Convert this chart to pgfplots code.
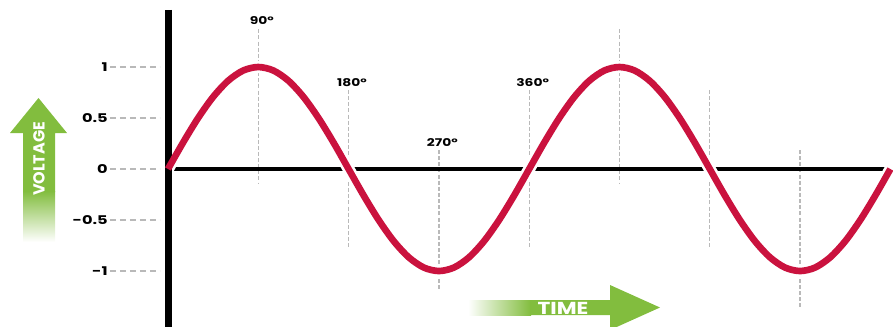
\documentclass[border=0pt]{standalone}
\usepackage{fontspec}
\setmainfont{Poppins}
\usepackage{pgfplots}
\pgfplotsset{compat=1.18}

\definecolor{wavered}{RGB}{202,18,62}
\definecolor{arrowgreen}{RGB}{130,189,62}
\definecolor{guidegray}{RGB}{185,185,185}

\tikzset{
    guide/.style={guidegray, line width=1pt, dash pattern=on 3pt off 1.6pt},
    deglabel/.style={font=\fontsize{8}{9}\selectfont\bfseries\addfontfeature{FakeStretch=1.3}, xshift=2.6pt},
}

% one full cycle every 360 degrees, read at 15 degree steps
\pgfplotstableread{
deg volt
0 0
15 0.259
30 0.5
45 0.707
60 0.866
75 0.966
90 1
105 0.966
120 0.866
135 0.707
150 0.5
165 0.259
180 0
195 -0.259
210 -0.5
225 -0.707
240 -0.866
255 -0.966
270 -1
285 -0.966
300 -0.866
315 -0.707
330 -0.5
345 -0.259
360 0
375 0.259
390 0.5
405 0.707
420 0.866
435 0.966
450 1
465 0.966
480 0.866
495 0.707
510 0.5
525 0.259
540 0
555 -0.259
570 -0.5
585 -0.707
600 -0.866
615 -0.966
630 -1
645 -0.966
660 -0.866
675 -0.707
690 -0.5
705 -0.259
720 0
}\sinedata

\begin{document}
\begin{tikzpicture}
\useasboundingbox (0pt,0pt) rectangle (669.75pt,-244.5pt);
\begin{axis}[
    at={(120pt,-244.5pt)}, anchor=south west,
    scale only axis,
    width=549.75pt, height=244.5pt,
    xmin=-7.97, xmax=722.6,
    ymin=-1.539, ymax=1.657,
    clip=false,
    axis x line=none,
    axis y line*=left,
    y axis line style={draw=none},
    xtick=\empty,
    ytick={-1,-0.5,0,0.5,1},
    yticklabels={-1,-0.5,0,0.5,1},
    tick align=outside,
    major tick length=37.5pt,
    ytick style={guidegray, line width=0.9pt, dash pattern=on 4.5pt off 3pt},
    yticklabel style={font=\fontsize{9}{10}\selectfont\bfseries\addfontfeature{FakeStretch=1.35},
        text=black, inner sep=1.5pt},
]
% dashed guides at each quarter turn
\draw[guide] (axis cs:90,1.37) -- (axis cs:90,-0.15);
\draw[guide] (axis cs:180,0.775) -- (axis cs:180,-0.775);
\draw[guide] (axis cs:270,0.186) -- (axis cs:270,-1.186);
\draw[guide] (axis cs:360,0.775) -- (axis cs:360,-0.775);
\draw[guide] (axis cs:450,1.37) -- (axis cs:450,-0.15);
\draw[guide] (axis cs:540,0.775) -- (axis cs:540,-0.775);
\draw[guide] (axis cs:630,0.186) -- (axis cs:630,-1.353);
\node[deglabel] at (axis cs:90,1.46) {90°};
\node[deglabel] at (axis cs:180,0.843) {180°};
\node[deglabel] at (axis cs:270,0.255) {270°};
\node[deglabel] at (axis cs:360,0.843) {360°};

% zero line
\draw[black, line width=2.7pt] (axis cs:3,0) -- (axis cs:715,0);

\addplot[white, line width=9pt, smooth] table[x=deg, y=volt] {\sinedata};
\draw[black, line width=5.2pt] (axis cs:0.3,1.56) -- (axis cs:0.3,-1.6);
\addplot[wavered, line width=5pt, smooth] table[x=deg, y=volt] {\sinedata};
\end{axis}

\begin{scope}[x=0.75pt, y=-0.75pt]
% VOLTAGE arrow
\fill[arrowgreen] (23,192) -- (23,133) -- (10,133) -- (38.5,98) -- (67,133)
    -- (55,133) -- (55,192) -- cycle;
\shade[top color=arrowgreen, bottom color=white] (23,191) rectangle (55,242);
\node[rotate=90, text=white, font=\fontsize{12}{14}\selectfont\bfseries]
    at (39,159) {VOLTAGE};
% TIME arrow
\shade[left color=white, right color=arrowgreen] (468,300) rectangle (531,315);
\fill[arrowgreen] (530,300) -- (610,300) -- (610,285) -- (660,307.5)
    -- (610,330) -- (610,315) -- (530,315) -- cycle;
\node[text=white, font=\fontsize{13}{15}\selectfont\bfseries\addfontfeature{FakeStretch=1.25}]
    at (563,308) {TIME};
\end{scope}
\end{tikzpicture}
\end{document}
